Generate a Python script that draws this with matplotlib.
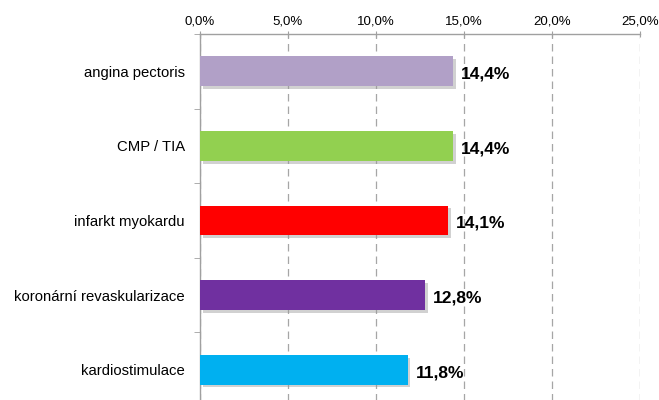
import matplotlib
matplotlib.use("Agg")
import matplotlib.pyplot as plt
from matplotlib.ticker import FixedLocator, FuncFormatter
import matplotlib.patheffects as pe

categories = ["angina pectoris", "CMP / TIA", "infarkt myokardu",
              "koronární revaskularizace", "kardiostimulace"]
values = [14.4, 14.4, 14.1, 12.8, 11.8]
colors = ["#B1A0C7", "#92D050", "#FF0000", "#7030A0", "#00B0F0"]
xticks = [0, 5, 10, 15, 20, 25]

plt.rcParams['font.family'] = ['Liberation Sans', 'DejaVu Sans']

fig = plt.figure(figsize=(6.59, 4.0), dpi=100)
ax = fig.add_axes([200/659, 1 - 407/400, 440/659, 373/400])

n = len(categories)
ypos = list(range(n))
bars = ax.barh(ypos, values, height=0.4, color=colors, zorder=3,
               path_effects=[pe.SimplePatchShadow(offset=(2, -2), shadow_rgbFace='#999999', alpha=0.45), pe.Normal()])

for y, v in zip(ypos, values):
    ax.text(v + 0.45, y + 0.04, f"{v:.1f}%".replace(".", ","), va="center", ha="left",
            fontsize=12.5, fontweight="bold", color="black", zorder=4)

ax.set_xlim(0, 25)
ax.set_ylim(n - 0.5, -0.5)
ax.xaxis.set_major_locator(FixedLocator(xticks))
ax.xaxis.set_major_formatter(FuncFormatter(lambda x, p: f"{x:.1f}%".replace(".", ",")))
ax.xaxis.tick_top()
ax.tick_params(axis='x', direction='inout', length=5, color='#A0A0A0', labelsize=9.5, pad=2)

ax.set_yticks(ypos)
ax.set_yticklabels(categories, fontsize=10.7)
ax.set_yticks([i + 0.5 for i in range(-1, n)], minor=True)
ax.tick_params(axis='y', which='major', length=0, pad=11)
ax.tick_params(axis='y', which='minor', length=4, color='#A0A0A0', direction='out')

ax.grid(axis='x', linestyle=(0, (6, 4)), color='#A6A6A6', linewidth=0.9, zorder=0)
for s in ['right', 'bottom']:
    ax.spines[s].set_visible(False)
for s in ['top', 'left']:
    ax.spines[s].set_color('#A0A0A0')
    ax.spines[s].set_linewidth(1.0)

fig.savefig("out.png", dpi=100)
